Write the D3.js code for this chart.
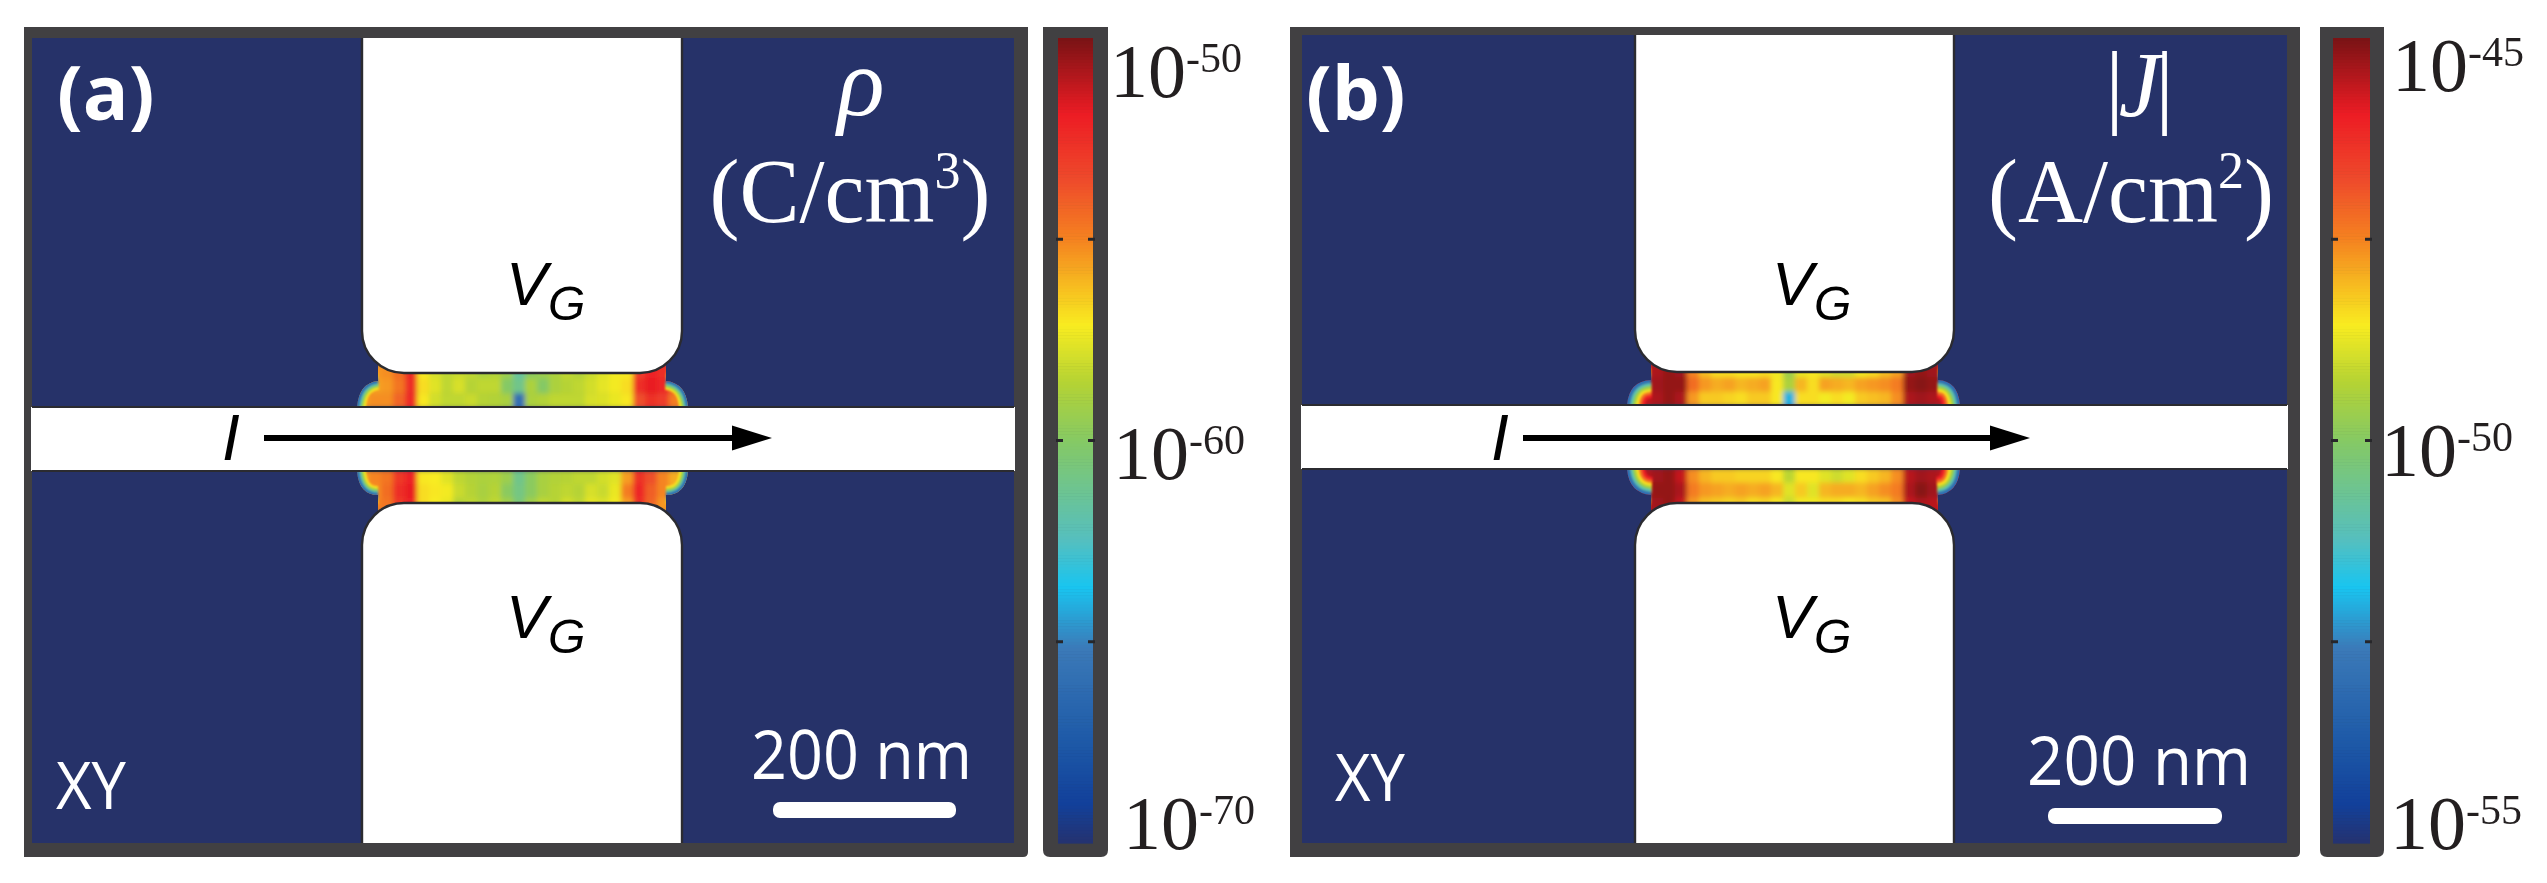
<!DOCTYPE html>
<html><head><meta charset="utf-8">
<script src="https://cdn.jsdelivr.net/npm/d3@7"></script>
<style>html,body{margin:0;padding:0;background:#fff}svg{display:block;filter:blur(0.7px)}</style>
</head><body><svg id="c" width="2547" height="883"></svg>
<script>
// colour bar stops: fraction of the bar from top, colour
const stopFractions=[0,.093,.175,.248,.355,.426,.5,.622,.68,.756,.87,.95,1];
const stopColors=["#7b1315","#ed1c24","#ee4b2b","#f58220","#f8ec20","#b5d334","#85c965","#55bfbf","#19c5f0","#3b7ab8","#1e5aa8","#12409a","#26326e"];
const rhoRange=[-50,-70], jRange=[-45,-55];
const rhoTicks=[-55,-60,-65], jTicks=[-47.5,-50,-52.5];

// rho, upper band (rows from the gate towards the wire), exponent of 10
const rhoUp0=[-55.5,-55.4,-55.2,-54.4,-52.3,-57,-57.8,-58.3,-58.1,-58.3,-58.8,-58.6,-59.3,-61.5,-59.8,-59.3,-58.8,-58.3,-58.6,-58.1,-57.6,-57.2,-57,-53,-52,-52.5,-54.5,-55.8];
const rhoUp1=[-55.5,-55.6,-55.4,-54.6,-52.5,-56.8,-57.6,-58.3,-57.8,-58.5,-58.3,-58.3,-60,-61,-58.8,-60,-58.8,-58.5,-58.3,-57.9,-57.5,-57.2,-56.8,-52.5,-51.8,-52.2,-54.2,-55.6];
const rhoUp2=[-55.5,-55.2,-55.2,-54.2,-52.4,-57,-57.9,-58.3,-58.3,-58.1,-58.5,-58.6,-58.9,-66,-58.8,-58.6,-58.3,-58.3,-58.3,-57.8,-57.7,-57.4,-57,-53.6,-52.6,-53,-54.8,-56];
// rho, lower band (rows from the wire towards the gate)
const rhoLo0=[-55.5,-55,-54.6,-52.8,-52,-57,-57.1,-57.6,-58.3,-58.6,-58.8,-58.7,-59.3,-61,-59.8,-58.9,-58.6,-58.5,-58.3,-58.3,-57.9,-57.6,-55.5,-52.6,-53.6,-55,-55.8,-56.5];
const rhoLo1=[-55.5,-55.2,-54.4,-52.5,-51.8,-56.8,-57,-57.2,-58.1,-58.5,-58.9,-58.5,-59.8,-60.8,-59.8,-58.9,-58.5,-58.3,-58.5,-57.8,-58.1,-57.4,-54.8,-52.2,-54,-55,-55.8,-56.5];
const rhoLo2=[-55.5,-55,-54.6,-52.8,-52,-56.8,-57.1,-57.4,-58.5,-58.3,-58.7,-58.3,-59.1,-60.5,-59.1,-58.3,-58.5,-57.9,-58.3,-57.5,-57.7,-57.2,-55.5,-52.5,-54.2,-55.4,-56,-56.5];
// |J|, upper band
const jUp0=[-46,-45.6,-45.4,-45.2,-45.3,-47.5,-48.1,-48.4,-48.4,-48.5,-48.5,-48.4,-48.6,-49.6,-48.7,-48.5,-48.8,-49,-49,-48.6,-48.4,-48.1,-47.8,-45.3,-45.2,-45.3,-45.5,-46];
const jUp1=[-46,-45.5,-45.3,-45.2,-45.2,-47.2,-47.7,-47.9,-47.8,-48,-47.9,-47.8,-48.5,-49.4,-48,-48.4,-47.8,-47.9,-48,-47.8,-47.7,-47.6,-47.4,-45.2,-45.1,-45.2,-45.4,-46];
const jUp2=[-46,-45.6,-45.4,-45.2,-45.4,-47.7,-48.2,-48.2,-48.3,-48.4,-48.2,-48.2,-48.5,-52,-48.4,-48.4,-48.6,-48.4,-48.6,-48.2,-48.1,-48,-47.6,-45.4,-45.3,-45.4,-45.6,-46.2];
// |J|, lower band
const jLo0=[-46,-45.5,-45.3,-45.2,-45.6,-47.6,-48,-48.2,-48.2,-48.3,-48.3,-48.3,-48.5,-49.2,-48.5,-48.5,-48.8,-49,-48.8,-48.4,-48.2,-48,-47.6,-45.5,-45.3,-45.4,-45.6,-46];
const jLo1=[-46,-45.5,-45.2,-45.2,-45.4,-47.4,-47.7,-47.8,-47.9,-47.8,-47.9,-47.8,-48,-48.8,-48.2,-48.8,-48,-47.9,-47.9,-48,-47.8,-47.6,-47.4,-45.4,-45.1,-45.3,-45.5,-46];
const jLo2=[-46,-45.5,-45.3,-45.2,-45.6,-47.7,-48.1,-48.2,-48.3,-48.2,-48.4,-48.3,-48.5,-49,-48.6,-48.6,-48.4,-48.4,-48.5,-48.4,-48.2,-48.1,-47.6,-45.6,-45.4,-45.5,-45.7,-46.2];
// exponents of the rim of each charged region, outermost first
const rhoRim=[-66,-62,-59,-57];
const jRim=[-53,-51,-49.5,-48.4,-47.2,-46];

const svg=d3.select("#c");
const defs=svg.append("defs");
defs.append("filter").attr("id","soft").attr("x","-5%").attr("y","-30%").attr("width","110%").attr("height","160%")
  .append("feGaussianBlur").attr("stdDeviation",2.4);
const ink="#414042", navy="#263269", gateLine="#2b2b30";

function frac(range){return d3.scaleLinear().domain(range).range([0,1]);}
function colourFor(range){
  const f=frac(range), s=d3.scaleLinear().domain(stopFractions).range(stopColors).interpolate(d3.interpolateRgb).clamp(true);
  return v=>s(f(v));
}

function panel(p){
  const g=svg.append("g");
  const colour=colourFor(p.range);
  // frame and field
  g.append("path").attr("fill",ink).attr("d",roundedBottom(p.ox0,27,p.ox1,857,5));
  g.append("rect").attr("x",p.ix0).attr("y",p.iy0).attr("width",p.ix1-p.ix0).attr("height",843-p.iy0).attr("fill",navy);

  const nCols=rhoUp0.length;
  const x=d3.scaleBand().domain(d3.range(nCols)).range([p.wL,p.wL+12*nCols]);
  [{rows:p.up,y0:p.gateB-9,y1:p.wireT+1,yEdge:p.wireT,yGate:p.gateB,id:"u"},
   {rows:p.lo,y0:p.wireB-1,y1:p.gateT+9,yEdge:p.wireB,yGate:p.gateT,id:"l"}].forEach(b=>{
    const y=d3.scaleBand().domain(d3.range(b.rows.length)).range([b.y0,b.y1]);
    const sgn=b.yGate<b.yEdge?-1:1;
    const cx0=p.gateL+16, cx1=p.gateR-16, yc=b.yGate-sgn*8;
    const curveL=`M${p.wL},${b.yEdge}Q${p.wL+2},${b.yEdge+sgn*24} ${cx0},${yc}`;
    const curveR=`M${p.wR},${b.yEdge}Q${p.wR-2},${b.yEdge+sgn*24} ${cx1},${yc}`;
    const id=p.name+b.id;
    defs.append("clipPath").attr("id",id).append("path")
      .attr("d",`M${p.wL},${b.yEdge}Q${p.wL+2},${b.yEdge+sgn*24} ${cx0},${yc}L${cx0},${b.yGate+sgn*30}L${cx1},${b.yGate+sgn*30}L${cx1},${yc}Q${p.wR-2},${b.yEdge+sgn*24} ${p.wR},${b.yEdge}Z`);
    const clip=g.append("g").attr("clip-path",`url(#${id})`);
    const cells=clip.append("g").attr("filter","url(#soft)");
    b.rows.forEach((row,r)=>{
      cells.selectAll(null).data(row).join("rect")
        .attr("x",(d,i)=>x(i)).attr("width",x.bandwidth()+.5)
        .attr("y",y(r)).attr("height",y.bandwidth()+.5)
        .attr("fill",d=>colour(d));
    });
    // rim bands, drawn innermost colour widest
    const rimG=clip.append("g");
    const n=p.rim.length;
    p.rim.slice().reverse().forEach((v,k)=>{
      const w=(n-k)*p.rimStep*2;
      [curveL,curveR].forEach(c=>rimG.append("path").attr("d",c).attr("fill","none").attr("stroke",colour(v)).attr("stroke-width",w));
    });
    rimG.style("filter","blur(1.2px)");
  });

  // gates
  const r=42;
  g.append("path").attr("fill","#fff").attr("stroke",gateLine).attr("stroke-width",2.4)
    .attr("d",`M${p.gateL},${p.iy0}V${p.gateB-r}A${r},${r} 0 0 0 ${p.gateL+r},${p.gateB}H${p.gateR-r}A${r},${r} 0 0 0 ${p.gateR},${p.gateB-r}V${p.iy0}`);
  g.append("path").attr("fill","#fff").attr("stroke",gateLine).attr("stroke-width",2.4)
    .attr("d",`M${p.gateL},843V${p.gateT+r}A${r},${r} 0 0 1 ${p.gateL+r},${p.gateT}H${p.gateR-r}A${r},${r} 0 0 1 ${p.gateR},${p.gateT+r}V843`);
  // wire
  g.append("rect").attr("x",p.ix0-1).attr("y",p.wireT).attr("width",p.ix1-p.ix0+2).attr("height",p.wireB-p.wireT).attr("fill","#fff");
  [p.wireT,p.wireB].forEach(yy=>g.append("line").attr("x1",p.ix0).attr("x2",p.ix1).attr("y1",yy).attr("y2",yy).attr("stroke",gateLine).attr("stroke-width",2.2));
  // arrow
  g.append("line").attr("x1",p.ar0).attr("x2",p.ar1-36).attr("y1",438).attr("y2",438).attr("stroke","#000").attr("stroke-width",6);
  g.append("path").attr("fill","#000").attr("d",`M${p.ar1},438L${p.ar1-40},425.5V450.5Z`);

  // white and black labels
  const sans="'Open Sans'", arial="'Liberation Sans'", serif="'Liberation Serif'";
  g.append("text").text(p.tag).attr("x",p.tagX).attr("y",120).attr("font-family",sans).attr("font-weight",700).attr("font-size",76).attr("fill","#fff");
  g.append("text").text("XY").attr("x",p.xyX).attr("y",p.xyY).attr("font-family",sans).attr("font-size",66).attr("fill","#fff").attr("textLength",p.xyW).attr("lengthAdjust","spacingAndGlyphs");
  g.append("text").text("200 nm").attr("x",p.sbX).attr("y",p.sbY).attr("font-family",sans).attr("font-size",67).attr("fill","#fff").attr("textLength",p.sbW).attr("lengthAdjust","spacingAndGlyphs");
  g.append("rect").attr("x",p.barX).attr("y",p.barY).attr("width",p.barW).attr("height",16).attr("rx",7).attr("fill","#fff");
  [[305,320],[638,653]].forEach(([a,b])=>{
    g.append("text").text("V").attr("x",p.vX).attr("y",a).attr("font-family",arial).attr("font-style","italic").attr("font-size",62).attr("fill","#000");
    g.append("text").text("G").attr("x",p.vX+42).attr("y",b).attr("font-family",arial).attr("font-style","italic").attr("font-size",48).attr("fill","#000");
  });
  g.append("text").text("I").attr("x",p.iX).attr("y",460).attr("font-family",arial).attr("font-style","italic").attr("font-size",64).attr("fill","#000");

  // quantity and unit
  const q=g.append("text").attr("x",p.qX).attr("y",p.qY).attr("text-anchor","middle").attr("font-family",serif).attr("font-size",p.qS).attr("letter-spacing",p.qLs).attr("fill","#fff");
  p.q.forEach(([t,it])=>q.append("tspan").text(t).attr("font-style",it?"italic":"normal"));
  const u=g.append("text").attr("x",p.uX).attr("y",222).attr("text-anchor","middle").attr("font-family",serif).attr("font-size",90).attr("fill","#fff");
  u.append("tspan").text(p.unit);
  u.append("tspan").text(p.pow).attr("font-size",52).attr("dy",-34);
  u.append("tspan").text(")").attr("dy",34);

  // colour bar
  const bar=svg.append("g");
  const by=d3.scaleLinear().domain(p.range).range([38,843]);
  bar.append("path").attr("fill",ink).attr("d",`M${p.cb0},27H${p.cb1}V850Q${p.cb1},857 ${p.cb1-7},857H${p.cb0+7}Q${p.cb0},857 ${p.cb0},850Z`);
  const vals=d3.range(p.range[0],p.range[1],(p.range[1]-p.range[0])/260);
  bar.selectAll(null).data(vals).join("rect")
    .attr("x",p.ci0).attr("width",p.ci1-p.ci0).attr("y",d=>by(d)).attr("height",3.7).attr("fill",d=>colour(d));
  p.ticks.forEach(t=>{
    [[p.ci0-2,p.ci0+5],[p.ci1-5,p.ci1+2]].forEach(([a,b])=>bar.append("line").attr("x1",a).attr("x2",b).attr("y1",by(t)).attr("y2",by(t)).attr("stroke","#26262a").attr("stroke-width",3));
  });
  p.labels.forEach(l=>{
    const t=bar.append("text").attr("x",l.x).attr("y",l.y).attr("font-family",serif).attr("font-size",76).attr("fill","#231f20");
    t.append("tspan").text("10");
    t.append("tspan").text(l.e).attr("font-size",42).attr("dy",-25);
  });
}
function roundedBottom(x0,y0,x1,y1,r){return `M${x0},${y0}H${x1}V${y1-r}Q${x1},${y1} ${x1-r},${y1}H${x0}Z`;}

panel({name:"a",range:rhoRange,ticks:rhoTicks,up:[rhoUp0,rhoUp1,rhoUp2],lo:[rhoLo0,rhoLo1,rhoLo2],rim:rhoRim,rimStep:2.2,
  ox0:24,ox1:1028,ix0:32,ix1:1014,iy0:38,gateL:362,gateR:682,gateB:373,gateT:503,wireT:407,wireB:471,wL:357,wR:688,
  ar0:264,ar1:772,tag:"(a)",tagX:57,xyX:56,xyY:809,xyW:70,sbX:751,sbY:779,sbW:221,barX:773,barY:802,barW:183,
  vX:506,iX:222,qX:861,qY:115,qS:98,qLs:0,q:[["ρ",true]],uX:850,unit:"(C/cm",pow:"3",
  cb0:1043,cb1:1108,ci0:1058,ci1:1093,labels:[{x:1110,y:97,e:"-50"},{x:1113,y:479,e:"-60"},{x:1123,y:849,e:"-70"}]});
panel({name:"b",range:jRange,ticks:jTicks,up:[jUp0,jUp1,jUp2],lo:[jLo0,jLo1,jLo2],rim:jRim,rimStep:3,
  ox0:1290,ox1:2300,ix0:1302,ix1:2287,iy0:35,gateL:1635,gateR:1954,gateB:372,gateT:503,wireT:405,wireB:469,wL:1627,wR:1960,
  ar0:1523,ar1:2030,tag:"(b)",tagX:1306,xyX:1335,xyY:801,xyW:70,sbX:2027,sbY:785,sbW:224,barX:2048,barY:808,barW:174,
  vX:1772,iX:1491,qX:2137,qY:116,qS:93,qLs:-5,q:[["|",false],["J",true],["|",false]],uX:2131,unit:"(A/cm",pow:"2",
  cb0:2320,cb1:2384,ci0:2333,ci1:2370,labels:[{x:2392,y:91,e:"-45"},{x:2381,y:476,e:"-50"},{x:2390,y:849,e:"-55"}]});
</script></body></html>
